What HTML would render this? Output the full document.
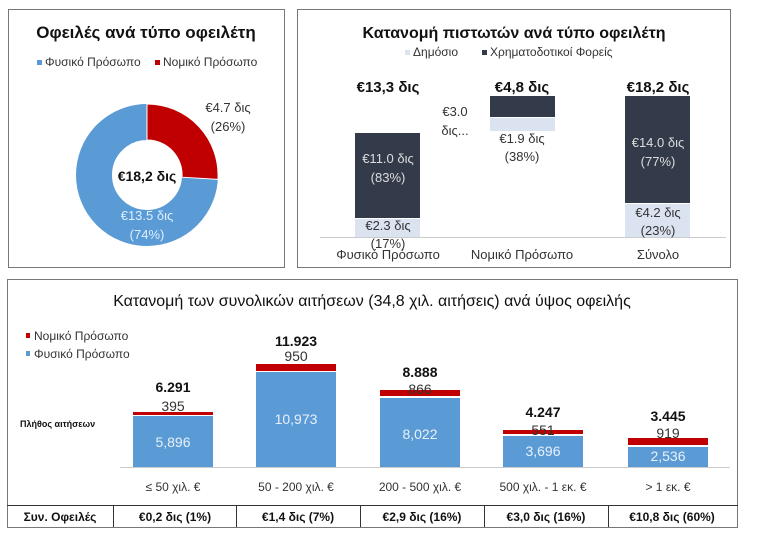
<!DOCTYPE html>
<html><head><meta charset="utf-8"><style>
body{margin:0;width:768px;height:539px;background:#fff;font-family:"Liberation Sans","DejaVu Sans",sans-serif;overflow:hidden}
</style></head><body>
<svg width="768" height="539" xmlns="http://www.w3.org/2000/svg" font-family="Liberation Sans, DejaVu Sans, sans-serif">
<rect x="8.5" y="9.5" width="276" height="258" fill="#fff" stroke="#777"/>
<text x="146" y="38" font-size="17" font-weight="bold" text-anchor="middle" fill="#111">Οφειλές ανά τύπο οφειλέτη</text>
<rect x="37" y="60" width="5" height="5" fill="#5b9bd5"/><text x="45" y="66" font-size="12" fill="#333">Φυσικό Πρόσωπο</text>
<rect x="155" y="60" width="5" height="5" fill="#c00000"/><text x="163" y="66" font-size="12" fill="#333">Νομικό Πρόσωπο</text>
<g transform="translate(147,175)">
<circle r="53" fill="none" stroke="#5b9bd5" stroke-width="36"/>
<path d="M0,-71 A71,71 0 0 1 70.9,4.4 L35,2.2 A35,35 0 0 0 0,-35Z" fill="#c00000" stroke="#fff" stroke-width="1"/>
</g>
<text x="147" y="181" font-size="14" font-weight="bold" text-anchor="middle" fill="#111">€18,2 δις</text>
<text x="147" y="220" font-size="13" text-anchor="middle" fill="#ddeeff">€13.5 δις</text>
<text x="147" y="239" font-size="13" text-anchor="middle" fill="#ddeeff">(74%)</text>
<text x="228" y="112" font-size="13" text-anchor="middle" fill="#333">€4.7 δις</text>
<text x="228" y="131" font-size="13" text-anchor="middle" fill="#333">(26%)</text>
<rect x="297.5" y="9.5" width="433" height="258" fill="#fff" stroke="#777"/>
<text x="514" y="38" font-size="16" font-weight="bold" text-anchor="middle" fill="#111">Κατανομή πιστωτών ανά τύπο οφειλέτη</text>
<rect x="405" y="50" width="5" height="5" fill="#dce3f0"/><text x="413" y="56" font-size="12" fill="#333">Δημόσιο</text>
<rect x="482" y="50" width="5" height="5" fill="#333b4a"/><text x="490" y="56" font-size="12" fill="#333">Χρηματοδοτικοί Φορείς</text>
<line x1="320" y1="237.5" x2="726" y2="237.5" stroke="#ccc"/>
<rect x="355" y="133" width="65" height="85" fill="#333b4a"/><rect x="355" y="219" width="65" height="18" fill="#dce3f0"/>
<rect x="490" y="96" width="65" height="21" fill="#333b4a"/><rect x="490" y="118" width="65" height="13" fill="#dce3f0"/>
<rect x="625" y="96" width="65" height="107" fill="#333b4a"/><rect x="625" y="204" width="65" height="33" fill="#dce3f0"/>
<g font-size="15" font-weight="bold" text-anchor="middle" fill="#111">
<text x="388" y="92">€13,3 δις</text><text x="522" y="92">€4,8 δις</text><text x="658" y="92">€18,2 δις</text></g>
<g font-size="13" text-anchor="middle">
<text x="388" y="163" fill="#ddd">€11.0 δις</text><text x="388" y="182" fill="#ddd">(83%)</text>
<text x="388" y="230" fill="#333">€2.3 δις</text><text x="388" y="248" fill="#333">(17%)</text>
<text x="455" y="116" fill="#333">€3.0</text><text x="455" y="135" fill="#333">δις...</text>
<text x="522" y="143" fill="#333">€1.9 δις</text><text x="522" y="161" fill="#333">(38%)</text>
<text x="658" y="147" fill="#ddd">€14.0 δις</text><text x="658" y="166" fill="#ddd">(77%)</text>
<text x="658" y="217" fill="#333">€4.2 δις</text><text x="658" y="235" fill="#333">(23%)</text>
<text x="388" y="259" fill="#333">Φυσικό Πρόσωπο</text><text x="522" y="259" fill="#333">Νομικό Πρόσωπο</text><text x="658" y="259" fill="#333">Σύνολο</text>
</g>
<rect x="7.5" y="279.5" width="730" height="248" fill="#fff" stroke="#777"/>
<text x="372" y="306" font-size="16" text-anchor="middle" fill="#111">Κατανομή των συνολικών αιτήσεων (34,8 χιλ. αιτήσεις) ανά ύψος οφειλής</text>
<rect x="26" y="333" width="4" height="5" fill="#c00000"/><text x="34" y="340" font-size="12" fill="#333">Νομικό Πρόσωπο</text>
<rect x="26" y="351" width="4" height="5" fill="#5b9bd5"/><text x="34" y="358" font-size="12" fill="#333">Φυσικό Πρόσωπο</text>
<text x="20" y="427" font-size="9" font-weight="bold" fill="#111">Πλήθος αιτήσεων</text>
<line x1="120" y1="467.5" x2="730" y2="467.5" stroke="#ccc"/>
<g fill="#c00000"><rect x="133" y="412" width="80" height="3"/><rect x="256" y="364" width="80" height="7"/><rect x="380" y="390" width="80" height="6"/><rect x="503" y="430" width="80" height="4"/><rect x="628" y="438" width="80" height="7"/></g>
<g fill="#5b9bd5"><rect x="133" y="416" width="80" height="51"/><rect x="256" y="372" width="80" height="95"/><rect x="380" y="398" width="80" height="69"/><rect x="503" y="436" width="80" height="31"/><rect x="628" y="447" width="80" height="20"/></g>
<g font-size="14" font-weight="bold" text-anchor="middle" fill="#111">
<text x="173" y="392">6.291</text><text x="296" y="346">11.923</text><text x="420" y="377">8.888</text><text x="543" y="417">4.247</text><text x="668" y="421">3.445</text></g>
<g font-size="14" text-anchor="middle" fill="#333">
<text x="173" y="411">395</text><text x="296" y="361">950</text><text x="420" y="394">866</text><text x="543" y="435">551</text><text x="668" y="438">919</text></g>
<g font-size="14" text-anchor="middle" fill="#e8f0fa">
<text x="173" y="447">5,896</text><text x="296" y="424">10,973</text><text x="420" y="439">8,022</text><text x="543" y="456">3,696</text><text x="668" y="461">2,536</text></g>
<g font-size="12" text-anchor="middle" fill="#333">
<text x="173" y="491">≤ 50 χιλ. €</text><text x="296" y="491">50 - 200 χιλ. €</text><text x="420" y="491">200 - 500 χιλ. €</text><text x="543" y="491">500 χιλ. - 1 εκ. €</text><text x="668" y="491">&gt; 1 εκ. €</text></g>
<line x1="7" y1="505.5" x2="738" y2="505.5" stroke="#333"/>
<g stroke="#333"><line x1="113.5" y1="505" x2="113.5" y2="527"/><line x1="236.5" y1="505" x2="236.5" y2="527"/><line x1="360.5" y1="505" x2="360.5" y2="527"/><line x1="484.5" y1="505" x2="484.5" y2="527"/><line x1="608.5" y1="505" x2="608.5" y2="527"/></g>
<g font-size="12" font-weight="bold" text-anchor="middle" fill="#111">
<text x="60" y="521">Συν. Οφειλές</text><text x="175" y="521">€0,2 δις (1%)</text><text x="298" y="521">€1,4 δις (7%)</text><text x="422" y="521">€2,9 δις (16%)</text><text x="546" y="521">€3,0 δις (16%)</text><text x="672" y="521">€10,8 δις (60%)</text></g>
</svg>
</body></html>
